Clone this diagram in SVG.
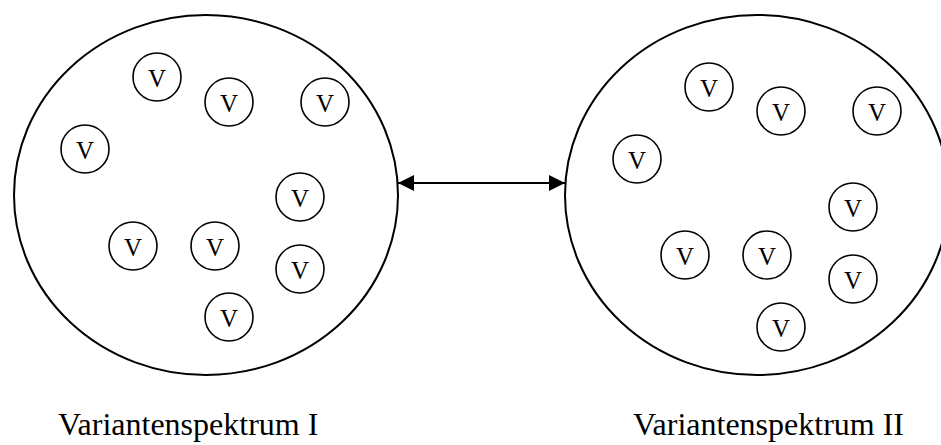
<svg xmlns="http://www.w3.org/2000/svg" width="941" height="445" viewBox="0 0 941 445">
<style>
.big{fill:none;stroke:#000;stroke-width:2}
.v circle{fill:none;stroke:#000;stroke-width:1.6}
.v text{font-family:"Liberation Serif","Times New Roman",serif;font-size:25px;text-anchor:middle;fill:#000}
.lbl{font-family:"Liberation Serif","Times New Roman",serif;font-size:32px;fill:#000}
.conn{stroke:#000;stroke-width:2.2;fill:none}
</style>
<defs>
<marker id="ah" viewBox="0 0 16 16" refX="16" refY="8" markerWidth="16" markerHeight="16" markerUnits="userSpaceOnUse" orient="auto-start-reverse">
<path d="M0,0 L16,8 L0,16 Z" fill="#000"/>
</marker>
</defs>
<g id="spectrum1">
<ellipse class="big" cx="206" cy="195" rx="192" ry="180"/>
<g class="v">
<g id="v1a" transform="translate(157,77)"><circle r="24"/><text y="10">V</text></g>
<g id="v1b" transform="translate(229,102)"><circle r="24"/><text y="10">V</text></g>
<g id="v1c" transform="translate(325,102)"><circle r="24"/><text y="10">V</text></g>
<g id="v1d" transform="translate(85,149)"><circle r="24"/><text y="10">V</text></g>
<g id="v1e" transform="translate(300,197)"><circle r="24"/><text y="10">V</text></g>
<g id="v1f" transform="translate(133,246)"><circle r="24"/><text y="10">V</text></g>
<g id="v1g" transform="translate(215,246)"><circle r="24"/><text y="10">V</text></g>
<g id="v1h" transform="translate(300,269)"><circle r="24"/><text y="10">V</text></g>
<g id="v1i" transform="translate(229,317)"><circle r="24"/><text y="10">V</text></g>
</g>
<text class="lbl" x="58" y="435">Variantenspektrum I</text>
</g>
<g id="spectrum2">
<ellipse class="big" cx="757" cy="195" rx="192" ry="180"/>
<g class="v">
<g id="v2a" transform="translate(709,87)"><circle r="24"/><text y="10">V</text></g>
<g id="v2b" transform="translate(781,111)"><circle r="24"/><text y="10">V</text></g>
<g id="v2c" transform="translate(877,111)"><circle r="24"/><text y="10">V</text></g>
<g id="v2d" transform="translate(637,159)"><circle r="24"/><text y="10">V</text></g>
<g id="v2e" transform="translate(853,207)"><circle r="24"/><text y="10">V</text></g>
<g id="v2f" transform="translate(685,255)"><circle r="24"/><text y="10">V</text></g>
<g id="v2g" transform="translate(767,255)"><circle r="24"/><text y="10">V</text></g>
<g id="v2h" transform="translate(853,279)"><circle r="24"/><text y="10">V</text></g>
<g id="v2i" transform="translate(781,327)"><circle r="24"/><text y="10">V</text></g>
</g>
<text class="lbl" x="633" y="435">Variantenspektrum II</text>
</g>
<g id="connectors">
<line class="conn" x1="398" y1="183" x2="565" y2="183" marker-start="url(#ah)" marker-end="url(#ah)"/>
</g>
</svg>
